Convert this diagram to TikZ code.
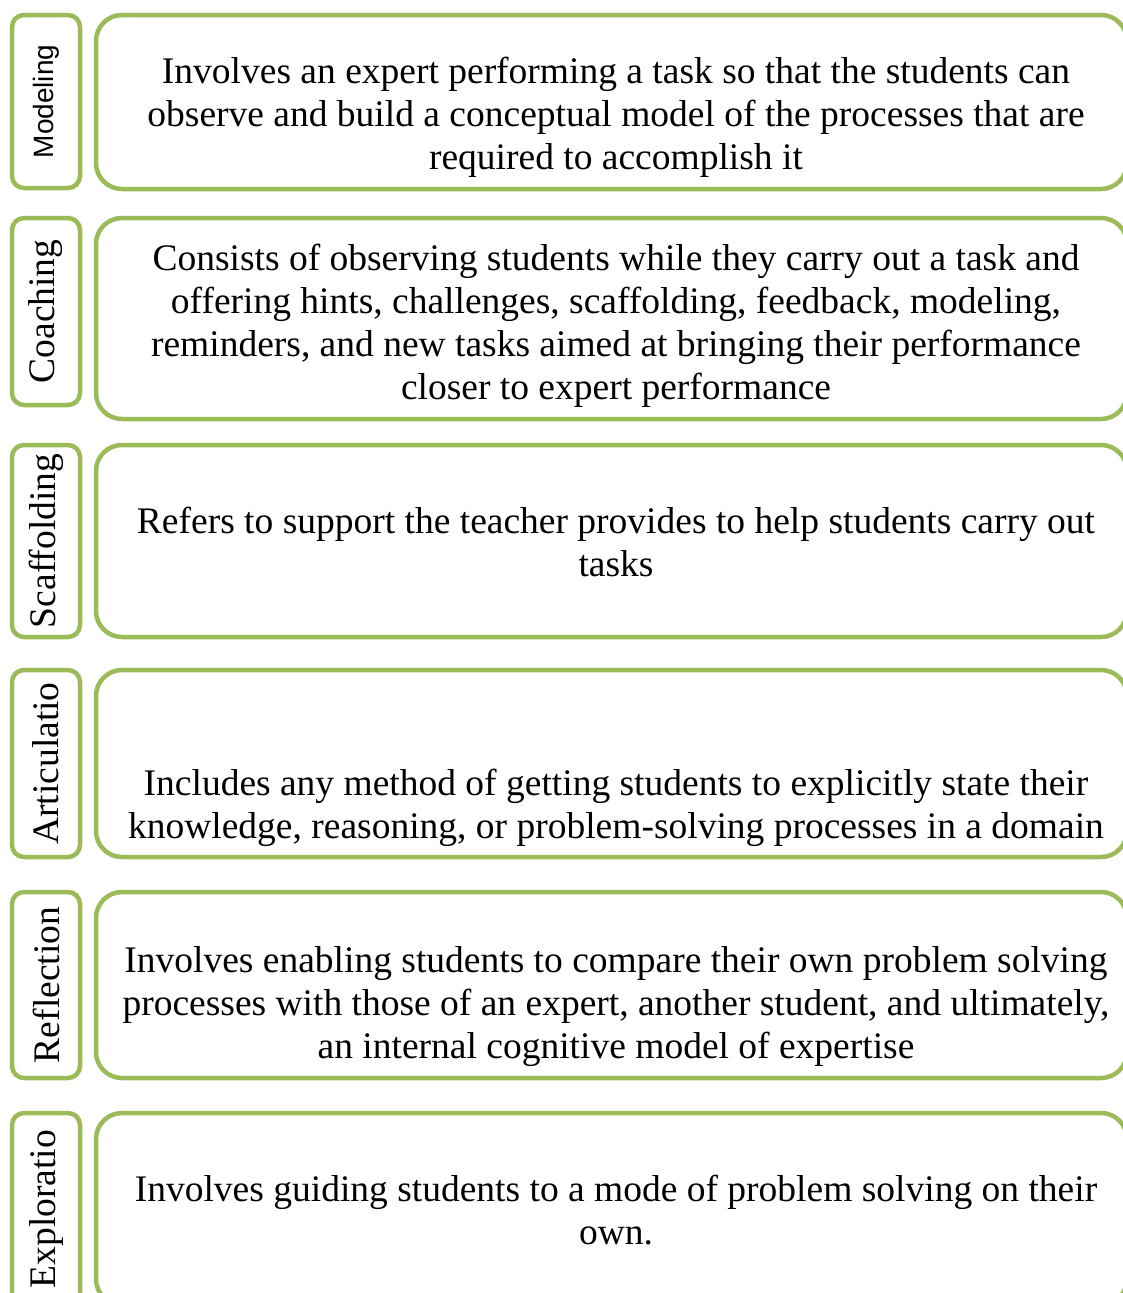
\documentclass[tikz,border=0pt]{standalone}
\usepackage{fontspec}
\setmainfont{Liberation Serif}
\newfontfamily\tagsans{Liberation Sans}
\usepackage{tikz}
\usetikzlibrary{positioning}
\definecolor{leaf}{RGB}{155, 187, 89}

\begin{document}
\begin{tikzpicture}[
    x=1pt, y=-1pt,
    every node/.style={font=\fontsize{37.5}{43}\selectfont, inner sep=0pt},
    tag/.style={rectangle, draw=leaf, line width=4.5pt, rounded corners=12pt, rotate=90, minimum height=68pt},
    card/.style={rectangle, draw=leaf, line width=4.5pt, rounded corners=26pt, minimum width=1031pt},
    txt/.style={align=center}
]
    \useasboundingbox (0,0) rectangle (1123,1293);
    \clip (0,0) rectangle (1123,1293);

    % left tabs
    \node (modeling) [tag, minimum width=173pt] at (46,101.5) {\fontsize{28}{32}\tagsans Modeling};
    \node (coaching) [tag, minimum width=187pt] at (46,311.5) {Coaching};
    \node (scaffold) [tag, minimum width=192pt] at (46,541) {Scaffolding};
    \node (artic) [tag, minimum width=187pt] at (46,763.5) {Articulatio};
    \node (reflect) [tag, minimum width=186pt] at (46,985) {Reflection};
    \node (explore) [tag, minimum width=192pt] at (46,1209) {Exploratio};

    % cards
    \node (modelingcard) [card, minimum height=174pt] at (611.5,102) {};
    \node (coachingcard) [card, minimum height=201pt] at (611.5,318.5) {};
    \node (scaffoldcard) [card, minimum height=192pt] at (611.5,541) {};
    \node (articcard) [card, minimum height=187pt] at (611.5,763.5) {};
    \node (reflectcard) [card, minimum height=186pt] at (611.5,985) {};
    \node (explorecard) [card, minimum height=192pt] at (611.5,1209) {};

    % card texts
    \node (modelingtxt) [txt] at (616,117) {Involves an expert performing a task so that the students can\\observe and build a conceptual model of the processes that are\\required to accomplish it};
    \node (coachingtxt) [txt] at (616,325.5) {Consists of observing students while they carry out a task and\\offering hints, challenges, scaffolding, feedback, modeling,\\reminders, and new tasks aimed at bringing their performance\\closer to expert performance};
    \node (scaffoldtxt) [txt] at (616,542) {Refers to support the teacher provides to help students carry out\\tasks};
    \node (artictxt) [txt] at (616,808) {Includes any method of getting students to explicitly state their\\knowledge, reasoning, or problem-solving processes in a domain};
    \node (reflecttxt) [txt] at (616,1007) {Involves enabling students to compare their own problem solving\\processes with those of an expert, another student, and ultimately,\\an internal cognitive model of expertise};
    \node (exploretxt) [txt] at (616,1210) {Involves guiding students to a mode of problem solving on their\\own.};
\end{tikzpicture}
\end{document}
